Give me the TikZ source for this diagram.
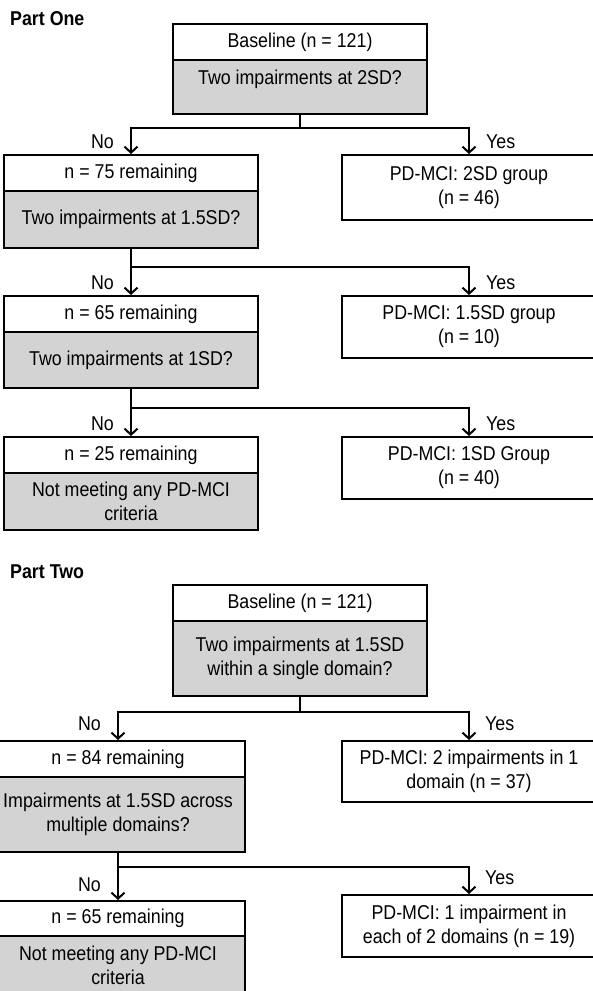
\documentclass[tikz,border=0pt]{standalone}
\usepackage{fontspec}
\setmainfont{Liberation Sans}[FakeStretch=0.89]
\usetikzlibrary{arrows.meta}
\definecolor{boxgray}{RGB}{211,211,211}
\newcommand\myfs{\fontsize{20}{24}\selectfont}
\begin{document}
\begin{tikzpicture}[x=1pt,y=-1pt,
  bx/.style={draw=black, line width=2pt, minimum width=254pt, inner sep=0pt, align=center, font=\myfs},
  wbox/.style={bx, fill=white},
  gbox/.style={bx, fill=boxgray},
  lbl/.style={inner sep=0pt, font=\myfs},
  ttl/.style={inner sep=0pt, font=\myfs\bfseries, anchor=west},
  ln/.style={line width=2pt},
  arr/.style={line width=2pt, -{Straight Barb[length=6pt,width=13pt,line width=2pt]}}]
\useasboundingbox (0,0) rectangle (593,991);
% ---------------- Part One ----------------
\node[ttl] (t1) at (10,19) {Part One};
\node[wbox, minimum height=36pt] (b1t) at (300,42) {Baseline (n = 121)};
\node[gbox, minimum height=54pt] (b1g) at (300,87) {};
\node[lbl] (b1q) at (300,79) {Two impairments at 2SD?};
\coordinate (j1) at (300,128);
\node[wbox, minimum height=36pt] (l2t) at (131,173) {n = 75 remaining};
\node[gbox, minimum height=57pt] (l2g) at (131,219.5) {Two impairments at 1.5SD?};
\node[wbox, minimum height=65pt] (r1) at (469,187.5) {PD-MCI: 2SD group\\(n = 46)};
\draw[ln] (b1g.south) -- (j1);
\draw[arr] (j1) -| (l2t.north);
\draw[arr] (j1) -| (r1.north);
\node[lbl, anchor=east] (no1) at (114,142) {No};
\node[lbl, anchor=west] (yes1) at (486,142) {Yes};
% level 2
\coordinate (j2) at (131,267);
\node[wbox, minimum height=36pt] (l3t) at (131,314) {n = 65 remaining};
\node[gbox, minimum height=56pt] (l3g) at (131,360) {Two impairments at 1SD?};
\node[wbox, minimum height=62pt] (r2) at (469,327) {PD-MCI: 1.5SD group\\(n = 10)};
\draw[ln] (l2g.south) -- (j2);
\draw[arr] (j2) -- (l3t.north);
\draw[arr] (j2) -| (r2.north);
\node[lbl, anchor=east] (no2) at (114,283) {No};
\node[lbl, anchor=west] (yes2) at (486,283) {Yes};
% level 3
\coordinate (j3) at (131,408);
\node[wbox, minimum height=36pt] (l4t) at (131,455) {n = 25 remaining};
\node[gbox, minimum height=57pt] (l4g) at (131,501.5) {Not meeting any PD-MCI\\criteria};
\node[wbox, minimum height=62pt] (r3) at (469,468) {PD-MCI: 1SD Group\\(n = 40)};
\draw[ln] (l3g.south) -- (j3);
\draw[arr] (j3) -- (l4t.north);
\draw[arr] (j3) -| (r3.north);
\node[lbl, anchor=east] (no3) at (114,424) {No};
\node[lbl, anchor=west] (yes3) at (486,424) {Yes};
% ---------------- Part Two ----------------
\node[ttl] (t2) at (10,572) {Part Two};
\node[wbox, minimum height=36pt] (p2t) at (300,603) {Baseline (n = 121)};
\node[gbox, minimum height=75pt] (p2g) at (300,658.5) {Two impairments at 1.5SD\\within a single domain?};
\coordinate (k1) at (300,712);
\node[wbox, minimum height=36pt] (q2t) at (118,759) {n = 84 remaining};
\node[gbox, minimum height=75pt] (q2g) at (118,814.5) {Impairments at 1.5SD across\\multiple domains?};
\node[wbox, minimum height=61pt] (s1) at (469,771.5) {PD-MCI: 2 impairments in 1\\domain (n = 37)};
\draw[ln] (p2g.south) -- (k1);
\draw[arr] (k1) -| (q2t.north);
\draw[arr] (k1) -| (s1.north);
\node[lbl, anchor=east] (no4) at (101,724) {No};
\node[lbl, anchor=west] (yes4) at (485,724) {Yes};
% level 2
\coordinate (k2) at (118,867);
\node[wbox, minimum height=35pt] (q3t) at (118,918.5) {n = 65 remaining};
\node[gbox, minimum height=59pt] (q3g) at (118,965.5) {Not meeting any PD-MCI\\criteria};
\node[wbox, minimum height=62pt] (s2) at (469,926) {PD-MCI: 1 impairment in\\each of 2 domains (n = 19)};
\draw[ln] (q2g.south) -- (k2);
\draw[arr] (k2) -- (q3t.north);
\draw[arr] (k2) -| (s2.north);
\node[lbl, anchor=east] (no5) at (101,885) {No};
\node[lbl, anchor=west] (yes5) at (485,878) {Yes};
\end{tikzpicture}
\end{document}
